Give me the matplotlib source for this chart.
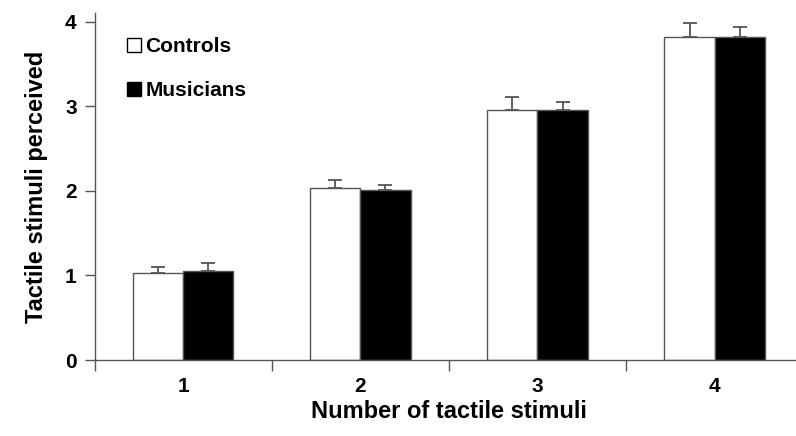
import numpy as np
import matplotlib.pyplot as plt
from matplotlib.patches import Patch

plt.rcParams['font.family'] = ['Liberation Sans', 'DejaVu Sans']
plt.rcParams['font.weight'] = 'bold'

categories = ['1', '2', '3', '4']
controls = [1.03, 2.03, 2.95, 3.82]
controls_err = [0.07, 0.10, 0.16, 0.16]
musicians = [1.05, 2.01, 2.96, 3.82]
musicians_err = [0.10, 0.06, 0.09, 0.11]

fig = plt.figure(figsize=(7.96, 4.36), dpi=100)
ax = fig.add_axes([0.119, 0.174, 0.89, 0.796])

x = np.arange(1, len(categories) + 1)
w = 0.283
ecol = '#555555'
zeros = np.zeros(len(x))
ax.bar(x - w / 2, controls, w, color='white', edgecolor=ecol, linewidth=1,
       yerr=[zeros, controls_err], capsize=5,
       error_kw=dict(ecolor=ecol, elinewidth=1.3, capthick=1.3))
ax.bar(x + w / 2, musicians, w, color='black', edgecolor=ecol, linewidth=1,
       yerr=[zeros, musicians_err], capsize=5,
       error_kw=dict(ecolor=ecol, elinewidth=1.3, capthick=1.3))

ax.set_xlim(0.5, 4.5)
ax.set_ylim(0, 4.1)
ax.set_yticks([0, 1, 2, 3, 4])
ax.set_xticks(x)
ax.set_xticklabels(categories)
ax.set_xticks([0.5, 1.5, 2.5, 3.5, 4.5], minor=True)
ax.tick_params(axis='x', which='major', length=0, pad=12, labelsize=15)
ax.tick_params(axis='x', which='minor', length=8, width=1, color=ecol, direction='out')
ax.tick_params(axis='y', length=7, width=1, color=ecol, labelsize=15, pad=6)
for lab in ax.get_xticklabels() + ax.get_yticklabels():
    lab.set_fontweight('bold')

for s in ['top', 'right']:
    ax.spines[s].set_visible(False)
for s in ['left', 'bottom']:
    ax.spines[s].set_color(ecol)
    ax.spines[s].set_linewidth(1)

ax.set_xlabel('Number of tactile stimuli', fontsize=17, fontweight='bold', labelpad=3)
ax.set_ylabel('Tactile stimuli perceived', fontsize=17, fontweight='bold', labelpad=12)

handles = [Patch(facecolor='white', edgecolor='black', linewidth=1),
           Patch(facecolor='black', edgecolor='black', linewidth=1)]
ax.legend(handles, ['Controls', 'Musicians'], loc='upper left',
          bbox_to_anchor=(0.045, 0.93), frameon=False,
          handlelength=0.7, handleheight=0.7, handletextpad=0.2,
          labelspacing=1.2, borderpad=0, borderaxespad=0,
          prop={'weight': 'bold', 'size': 15})

fig.savefig('out.png', dpi=100)
